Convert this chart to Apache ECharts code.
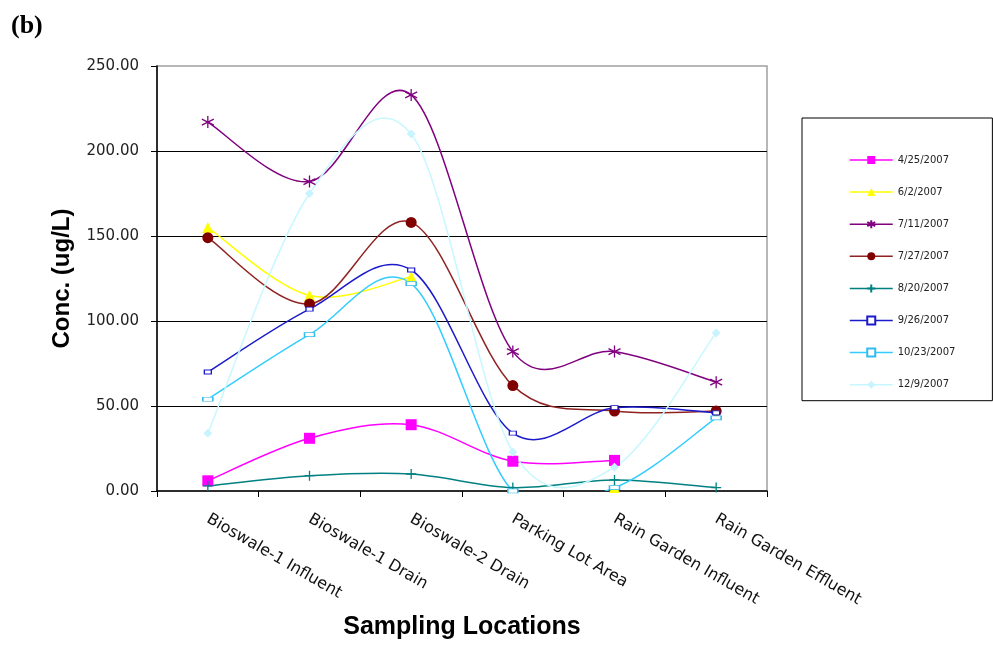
<!DOCTYPE html>
<html>
<head>
<meta charset="utf-8">
<script src="https://cdn.jsdelivr.net/npm/echarts@6/dist/echarts.min.js"></script>
<style>
  html, body { margin: 0; padding: 0; background: #fff; }
  #chart { width: 993px; height: 645px; }
</style>
</head>
<body>
<div id="chart"></div>
<script>
// Sampling sites along the x axis
const locations = [
  'Bioswale-1 Influent', 'Bioswale-1 Drain', 'Bioswale-2 Drain',
  'Parking Lot Area', 'Rain Garden Influent', 'Rain Garden Effluent'
];

// Sampling event dates (one series each)
const dates = ['4/25/2007', '6/2/2007', '7/11/2007', '7/27/2007',
               '8/20/2007', '9/26/2007', '10/23/2007', '12/9/2007'];

// Concentrations in ug/L per sampling event (null = not sampled)
const conc0425 = [6, 31, 39, 17.5, 18, null];
const conc0602 = [155, 115, 126, null, 2, null];
const conc0711 = [217, 182, 233, 82, 82, 64];
const conc0727 = [149, 110, 158, 62, 47, 47];
const conc0820 = [3, 9, 10, 2, 6.5, 2];
const conc0926 = [70, 107, 130, 34, 49, 46];
const conc1023 = [54, 92, 122, 0, 2, 43];
const conc1209 = [34, 175, 210, 23, 14, 93];

// Value axis ticks
const yMin = 0, yMax = 250, yStep = 50;

const asterisk = 'path://M5,0 L5,10 M0.67,2.5 L9.33,7.5 M0.67,7.5 L9.33,2.5';
const plus = 'path://M5,0 L5,10 M0,5 L10,5';

// name, values, line colour, symbol, symbol size, fill, border, border width
const styles = [
  [dates[0], conc0425, '#ff00ff', 'rect', 11, '#ff00ff', '#ff00ff', 0],
  [dates[1], conc0602, '#ffff00', 'triangle', 11, '#ffff00', '#ffff00', 0],
  [dates[2], conc0711, '#800080', asterisk, 12, 'rgba(0,0,0,0)', '#800080', 1.3],
  [dates[3], conc0727, '#902222', 'circle', 11, '#800000', '#800000', 0],
  [dates[4], conc0820, '#008080', plus, 10, 'rgba(0,0,0,0)', '#008080', 1.3],
  [dates[5], conc0926, '#1a1acc', 'rect', [7, 4], '#ffffff', '#1a1acc', 1],
  [dates[6], conc1023, '#33ccff', 'rect', [10, 4], '#ffffff', '#33bbee', 1],
  [dates[7], conc1209, '#c8f8ff', 'diamond', 9, '#c8f4ff', '#c8f4ff', 0]
];

// Markers (and legend entries) come from ordinary line series; the
// connecting curves are drawn by custom series as Catmull-Rom splines
// through the same data, positioned with api.coord.
function markerSeries(s) {
  return {
    name: s[0],
    type: 'line',
    data: s[1],
    z: 3,
    symbol: s[3],
    symbolSize: s[4],
    showAllSymbol: true,
    lineStyle: { color: s[2], width: 1.5, opacity: 0 },
    itemStyle: { color: s[5], borderColor: s[6], borderWidth: s[7] },
    emphasis: { disabled: true }
  };
}

function curveSeries(s) {
  const values = s[1];
  return {
    name: s[0],
    type: 'custom',
    z: 1,
    clip: true,
    silent: true,
    data: values.map(function (v, i) { return [i, v]; }),
    encode: { x: 0, y: 1 },
    renderItem: function (params, api) {
      const i = params.dataIndex;
      const n = values.length;
      if (i >= n - 1 || values[i] == null || values[i + 1] == null) return null;
      const p1 = api.coord([i, values[i]]);
      const p2 = api.coord([i + 1, values[i + 1]]);
      const p0 = (i > 0 && values[i - 1] != null) ? api.coord([i - 1, values[i - 1]]) : p1;
      const p3 = (i + 2 < n && values[i + 2] != null) ? api.coord([i + 2, values[i + 2]]) : p2;
      const t = 1 / 6;
      const c1 = [p1[0] + (p2[0] - p0[0]) * t, p1[1] + (p2[1] - p0[1]) * t];
      const c2 = [p2[0] - (p3[0] - p1[0]) * t, p2[1] - (p3[1] - p1[1]) * t];
      return {
        type: 'bezierCurve',
        shape: { x1: p1[0], y1: p1[1], cpx1: c1[0], cpy1: c1[1], cpx2: c2[0], cpy2: c2[1], x2: p2[0], y2: p2[1] },
        style: { fill: null, stroke: s[2], lineWidth: 1.5 }
      };
    }
  };
}

const series = styles.map(markerSeries).concat(styles.map(curveSeries));

const legendData = styles.map(function (s) {
  return { name: s[0], lineStyle: { color: s[2], width: 1.5, opacity: 1 } };
});

const chart = echarts.init(document.getElementById('chart'), null, { renderer: 'canvas' });

chart.setOption({
  animation: false,
  backgroundColor: '#ffffff',
  title: {
    text: '(b)',
    left: 6,
    top: 8,
    textStyle: { fontFamily: 'Liberation Serif', fontWeight: 'bold', fontSize: 26, color: '#000' }
  },
  grid: {
    left: 157, right: 226, top: 66, bottom: 154,
    containLabel: false,
    outerBoundsMode: 'none',
    show: true, borderColor: '#a0a0a0', borderWidth: 1.5, backgroundColor: 'transparent'
  },
  legend: {
    orient: 'vertical',
    left: 802,
    top: 118,
    padding: [37, 37, 11, 47],
    itemWidth: 43,
    itemHeight: 10,
    itemGap: 22.1,
    borderColor: '#000',
    borderWidth: 1,
    backgroundColor: '#fff',
    textStyle: { fontFamily: 'DejaVu Sans', fontSize: 10, color: '#222' },
    data: legendData
  },
  xAxis: {
    type: 'category',
    data: locations,
    boundaryGap: true,
    name: 'Sampling Locations',
    nameLocation: 'middle',
    nameGap: 124,
    nameTextStyle: { fontFamily: 'Liberation Sans', fontWeight: 'bold', fontSize: 25, color: '#000' },
    axisLine: { lineStyle: { color: '#000', width: 1.5 } },
    axisTick: { show: true, alignWithLabel: false, length: 6, lineStyle: { color: '#000' } },
    axisLabel: {
      rotate: -30,
      margin: 27,
      interval: 0,
      fontFamily: 'DejaVu Sans',
      fontSize: 16,
      color: '#111'
    },
    splitLine: { show: false }
  },
  yAxis: {
    type: 'value',
    min: yMin,
    max: yMax,
    interval: yStep,
    name: 'Conc. (ug/L)',
    nameLocation: 'middle',
    nameGap: 83,
    nameRotate: 90,
    nameTextStyle: { fontFamily: 'Liberation Sans', fontWeight: 'bold', fontSize: 24, color: '#000' },
    axisLine: { show: true, lineStyle: { color: '#000', width: 1.5 } },
    axisTick: { show: true, inside: false, length: 6, lineStyle: { color: '#000' } },
    axisLabel: {
      margin: 18,
      fontFamily: 'DejaVu Sans',
      fontSize: 15,
      color: '#222',
      formatter: function (v) { return v.toFixed(2); }
    },
    splitLine: {
      show: true,
      showMinLine: false,
      showMaxLine: false,
      lineStyle: { color: '#000', width: 1.2 }
    }
  },
  series: series
});
</script>
</body>
</html>
